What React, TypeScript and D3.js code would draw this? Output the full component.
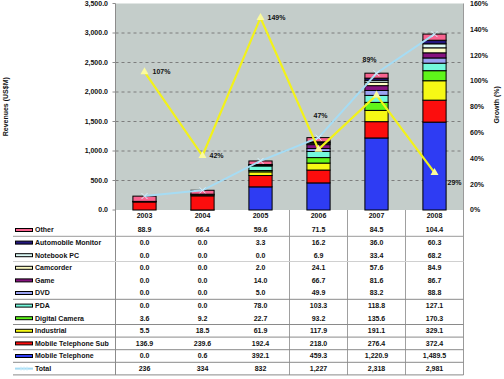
import React from "react";
import * as d3 from "d3";

const years = ["2003", "2004", "2005", "2006", "2007", "2008"];

// Table order (top to bottom)
const seriesNames = [
  "Other",
  "Automobile Monitor",
  "Notebook PC",
  "Camcorder",
  "Game",
  "DVD",
  "PDA",
  "Digital Camera",
  "Industrial",
  "Mobile Telephone Sub",
  "Mobile Telephone",
];
const seriesColors = [
  "#f8638f",
  "#23177e",
  "#dcfaf6",
  "#fdfcc4",
  "#86137f",
  "#9aa2f2",
  "#74f9dc",
  "#5ff51a",
  "#f6f915",
  "#fc0d0d",
  "#2e3cf3",
];
const other = [88.9, 66.4, 59.6, 71.5, 84.5, 104.4];
const automobileMonitor = [0.0, 0.0, 3.3, 16.2, 36.0, 60.3];
const notebookPC = [0.0, 0.0, 0.0, 6.9, 33.4, 68.2];
const camcorder = [0.0, 0.0, 2.0, 24.1, 57.6, 84.9];
const game = [0.0, 0.0, 14.0, 66.7, 81.6, 86.7];
const dvd = [0.0, 0.0, 5.0, 49.9, 83.2, 88.8];
const pda = [0.0, 0.0, 78.0, 103.3, 118.8, 127.1];
const digitalCamera = [3.6, 9.2, 22.7, 93.2, 135.6, 170.3];
const industrial = [5.5, 18.5, 61.9, 117.9, 191.1, 329.1];
const mobileTelephoneSub = [136.9, 239.6, 192.4, 218.0, 276.4, 372.4];
const mobileTelephone = [0.0, 0.6, 392.1, 459.3, 1220.9, 1489.5];
const total = [236, 334, 832, 1227, 2318, 2981];
const growth = [107, 42, 149, 47, 89, 29];

const revenueTicks = [0, 500, 1000, 1500, 2000, 2500, 3000, 3500];
const growthTicks = [0, 20, 40, 60, 80, 100, 120, 140, 160];

const seriesValues = [
  other,
  automobileMonitor,
  notebookPC,
  camcorder,
  game,
  dvd,
  pda,
  digitalCamera,
  industrial,
  mobileTelephoneSub,
  mobileTelephone,
];

// layout
const W = 504;
const H = 379;
const plotLeft = 115.5;
const plotRight = 463.5;
const plotTop = 3.5;
const plotBottom = 210;
const headerY = 216;
const rowY0 = 230;
const rowStep = 12.6;
const tableLeft = 13;
const labelOffsets: [number, number][] = [
  [8, 0],
  [7, 0],
  [7, 0],
  [-5, -34],
  [-14, -36],
  [13, 10],
];

const FONT = "'Liberation Sans', Arial, sans-serif";

export default function App() {
  const x = d3
    .scaleBand<string>()
    .domain(years)
    .range([plotLeft, plotRight])
    .paddingInner(0.6)
    .paddingOuter(0.3);
  const xc = (y: string) => (x(y) as number) + x.bandwidth() / 2;
  const yL = d3.scaleLinear().domain([0, 3500]).range([plotBottom, plotTop]);
  const yR = d3.scaleLinear().domain([0, 160]).range([plotBottom, plotTop]);

  // stacking bottom to top: reverse of table order
  const stackKeys = seriesNames.slice().reverse();
  const rows = years.map((yr, i) => {
    const o: any = { year: yr };
    seriesNames.forEach((n, k) => (o[n] = seriesValues[k][i]));
    return o;
  });
  const stacked = d3.stack<any>().keys(stackKeys)(rows);
  const colorOf = (n: string) => seriesColors[seriesNames.indexOf(n)];

  const growthLine = d3
    .line<number>()
    .x((_, i) => xc(years[i]))
    .y((d) => yR(d));
  const totalLine = d3
    .line<number>()
    .x((_, i) => xc(years[i]))
    .y((d) => yL(d));

  const fmt1 = d3.format(",.1f");
  const fmtT = d3.format(",");
  const rowY = (i: number) => rowY0 + i * rowStep;

  const hLines: { after: number; color: string }[] = [
    { after: 0, color: "#9a9a9a" },
    { after: 2, color: "#d0d0d0" },
    { after: 5, color: "#8a8a8a" },
    { after: 7, color: "#8a8a8a" },
    { after: 8, color: "#8a8a8a" },
    { after: 9, color: "#8a8a8a" },
    { after: 10, color: "#8a8a8a" },
    { after: 11, color: "#8a8a8a" },
  ];
  const vLineXs = [years[3], years[4], years[5]].map((y) => (x(y) as number) - x.step() * 0.3);

  const tri = d3.symbol().type(d3.symbolTriangle).size(28)();

  return (
    <svg
      width={W}
      height={H}
      style={{ position: "absolute", left: 0, top: 0, background: "#fff" }}
      fontFamily={FONT}
    >
      {/* plot background */}
      <rect
        x={plotLeft}
        y={plotTop}
        width={plotRight - plotLeft}
        height={plotBottom - plotTop}
        fill="#c4cdca"
      />
      {/* gridlines */}
      {revenueTicks
        .filter((t) => t > 0 && t < 3500)
        .map((t) => (
          <line
            key={t}
            x1={plotLeft}
            x2={plotRight}
            y1={yL(t)}
            y2={yL(t)}
            stroke="#7d7d7d"
            strokeWidth={1}
            strokeDasharray="3,3"
          />
        ))}
      {/* left axis */}
      <line x1={plotLeft} x2={plotLeft} y1={plotTop} y2={375} stroke="#8c8c8c" />
      <line x1={plotRight} x2={plotRight} y1={plotTop} y2={375} stroke="#9a9a9a" />
      {revenueTicks.map((t) => (
        <g key={t}>
          <line x1={plotLeft - 3} x2={plotLeft} y1={yL(t)} y2={yL(t)} stroke="#8c8c8c" />
          <text
            x={108}
            y={yL(t)}
            dy="0.35em"
            textAnchor="end"
            fontSize={7}
            fontWeight="bold"
            fill="#111"
          >
            {fmt1(t)}
          </text>
        </g>
      ))}
      {growthTicks.map((t) => (
        <text
          key={t}
          x={470}
          y={yR(t)}
          dy="0.35em"
          fontSize={7}
          fontWeight="bold"
          fill="#111"
        >
          {t}%
        </text>
      ))}
      <text
        transform={`translate(8,${(plotTop + plotBottom) / 2}) rotate(-90)`}
        textAnchor="middle"
        fontSize={7}
        fontWeight="bold"
        fill="#111"
      >
        Revenues (US$M)
      </text>
      <text
        transform={`translate(499,${(plotTop + plotBottom) / 2 - 2}) rotate(-90)`}
        textAnchor="middle"
        fontSize={7}
        fontWeight="bold"
        fill="#111"
      >
        Growth (%)
      </text>

      {/* stacked bars */}
      {stacked.map((layer) => (
        <g key={layer.key} fill={colorOf(layer.key)}>
          {layer.map((d, i) =>
            d[1] - d[0] > 0 ? (
              <rect
                key={i}
                x={x(years[i]) as number}
                y={yL(d[1])}
                width={x.bandwidth()}
                height={yL(d[0]) - yL(d[1])}
                stroke="#000"
                strokeWidth={1}
              />
            ) : null
          )}
        </g>
      ))}

      {/* total line */}
      <path d={totalLine(total) || ""} fill="none" stroke="#a6dcf4" strokeWidth={2} />
      {total.map((v, i) => (
        <g key={i} transform={`translate(${xc(years[i])},${yL(v)})`} stroke="#d8f2ff" strokeWidth={1}>
          <line x1={-3} x2={3} y1={-3} y2={3} />
          <line x1={-3} x2={3} y1={3} y2={-3} />
        </g>
      ))}

      {/* growth line */}
      <path d={growthLine(growth) || ""} fill="none" stroke="#f2f21a" strokeWidth={2.2} />
      {growth.map((v, i) => (
        <path
          key={i}
          d={tri || ""}
          transform={`translate(${xc(years[i])},${yR(v)})`}
          fill="#fbfb9c"
        />
      ))}
      {growth.map((v, i) => (
        <text
          key={i}
          x={xc(years[i]) + labelOffsets[i][0]}
          y={yR(v) + labelOffsets[i][1]}
          dy="0.35em"
          fontSize={7}
          fontWeight="bold"
          fill="#111"
        >
          {v}%
        </text>
      ))}

      {/* table */}
      {years.map((yr) => (
        <text
          key={yr}
          x={xc(yr)}
          y={headerY}
          dy="0.35em"
          textAnchor="middle"
          fontSize={7}
          fontWeight="bold"
          fill="#111"
        >
          {yr}
        </text>
      ))}
      {vLineXs.map((vx, i) => (
        <line key={i} x1={vx} x2={vx} y1={plotBottom} y2={375} stroke="#a0a0a0" />
      ))}
      {hLines.map((h) => (
        <line
          key={h.after}
          x1={tableLeft}
          x2={plotRight}
          y1={rowY(h.after) + rowStep / 2}
          y2={rowY(h.after) + rowStep / 2}
          stroke={h.color}
        />
      ))}
      {seriesNames.map((n, k) => (
        <g key={n}>
          <rect
            x={15.5}
            y={rowY(k) - 1.5}
            width={17}
            height={3}
            fill={seriesColors[k]}
            stroke="#000"
            strokeWidth={1}
          />
          <text x={35} y={rowY(k)} dy="0.35em" fontSize={7} fontWeight="bold" fill="#111">
            {n}
          </text>
          {seriesValues[k].map((v, i) => (
            <text
              key={i}
              x={xc(years[i])}
              y={rowY(k)}
              dy="0.35em"
              textAnchor="middle"
              fontSize={7}
              fontWeight="bold"
              fill="#111"
            >
              {fmt1(v)}
            </text>
          ))}
        </g>
      ))}
      {/* total row */}
      <g>
        <line x1={15} x2={33} y1={rowY(11)} y2={rowY(11)} stroke="#a6dcf4" strokeWidth={2} />
        {[21, 24, 27].map((tx) => (
          <line key={tx} x1={tx} x2={tx} y1={rowY(11) - 2} y2={rowY(11) + 2} stroke="#c8ecfb" />
        ))}
        <text x={35} y={rowY(11)} dy="0.35em" fontSize={7} fontWeight="bold" fill="#111">
          Total
        </text>
        {total.map((v, i) => (
          <text
            key={i}
            x={xc(years[i])}
            y={rowY(11)}
            dy="0.35em"
            textAnchor="middle"
            fontSize={7}
            fontWeight="bold"
            fill="#111"
          >
            {fmtT(v)}
          </text>
        ))}
      </g>
    </svg>
  );
}
